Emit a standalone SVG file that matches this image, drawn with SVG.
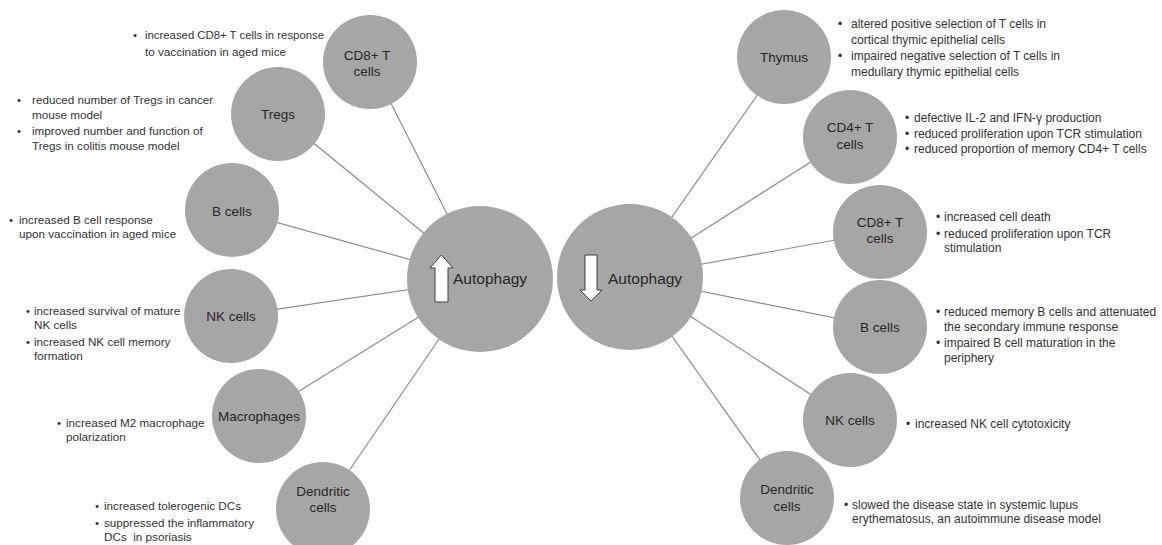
<svg xmlns="http://www.w3.org/2000/svg" width="1162" height="545" viewBox="0 0 1162 545">
<style>
.node{fill:#a6a6a6;}
.hub{fill:#a6a6a6;}
.lbl{font-family:"Liberation Sans",Arial,sans-serif;font-size:13.5px;fill:#262626;text-anchor:middle;}
.hubl{font-family:"Liberation Sans",Arial,sans-serif;font-size:15.5px;fill:#262626;}
.txt{font-family:"Liberation Sans",Arial,sans-serif;font-size:12px;fill:#333333;}
.lt{font-size:11.7px;}
.conn line{stroke:#8c8c8c;stroke-width:1.2;}
.arrow{fill:#ffffff;stroke:#404040;stroke-width:1;}
</style>
<rect width="1162" height="545" fill="#ffffff"/>
<g id="connectors" class="conn">
<line x1="480" y1="279" x2="370" y2="62"/>
<line x1="480" y1="279" x2="278" y2="114"/>
<line x1="480" y1="279" x2="232" y2="210"/>
<line x1="480" y1="279" x2="231" y2="316"/>
<line x1="480" y1="279" x2="259" y2="416"/>
<line x1="480" y1="279" x2="323" y2="509"/>
<line x1="630" y1="277" x2="784" y2="57"/>
<line x1="630" y1="277" x2="850" y2="137"/>
<line x1="630" y1="277" x2="880" y2="232"/>
<line x1="630" y1="277" x2="880" y2="327"/>
<line x1="630" y1="277" x2="850" y2="420"/>
<line x1="630" y1="277" x2="787" y2="498"/>
</g>
<g id="hub-up">
<circle class="hub" cx="480" cy="279" r="73"/>
<polygon class="arrow" points="441.5,255 453,268 448,268 448,302 435,302 435,268 430,268"/>
<text class="hubl" x="453" y="284">Autophagy</text>
</g>
<g id="hub-down">
<circle class="hub" cx="630" cy="277" r="73"/>
<polygon class="arrow" points="585,255 597,255 597,290 602,290 591,301 580,290 585,290"/>
<text class="hubl" x="608" y="284">Autophagy</text>
</g>
<g id="l-cd8">
<circle class="node" cx="370" cy="62" r="47"/>
<text class="lbl" x="367" y="60">CD8+ T</text>
<text class="lbl" x="367" y="76">cells</text>
<text class="txt lt" x="133" y="39">•</text>
<text class="txt lt" x="145" y="39" textLength="179" lengthAdjust="spacingAndGlyphs">increased CD8+ T cells in response</text>
<text class="txt lt" x="145" y="56">to vaccination in aged mice</text>
</g>
<g id="l-tregs">
<circle class="node" cx="278" cy="114" r="47"/>
<text class="lbl" x="278" y="119">Tregs</text>
<text class="txt lt" x="17" y="104">•</text>
<text class="txt lt" x="32" y="104">reduced number of Tregs in cancer</text>
<text class="txt lt" x="32" y="119">mouse model</text>
<text class="txt lt" x="17" y="135">•</text>
<text class="txt lt" x="32" y="135">improved number and function of</text>
<text class="txt lt" x="32" y="150">Tregs in colitis mouse model</text>
</g>
<g id="l-bcells">
<circle class="node" cx="232" cy="210" r="47"/>
<text class="lbl" x="232" y="216">B cells</text>
<text class="txt lt" x="9" y="224">•</text>
<text class="txt lt" x="19" y="224">increased B cell response</text>
<text class="txt lt" x="19" y="238">upon vaccination in aged mice</text>
</g>
<g id="l-nk">
<circle class="node" cx="231" cy="316" r="47"/>
<text class="lbl" x="231" y="321">NK cells</text>
<text class="txt lt" x="26" y="315">•</text>
<text class="txt lt" x="34" y="315">increased survival of mature</text>
<text class="txt lt" x="34" y="329">NK cells</text>
<text class="txt lt" x="26" y="346">•</text>
<text class="txt lt" x="34" y="346">increased NK cell memory</text>
<text class="txt lt" x="34" y="360">formation</text>
</g>
<g id="l-macro">
<circle class="node" cx="259" cy="416" r="47"/>
<text class="lbl" x="259" y="421">Macrophages</text>
<text class="txt lt" x="57" y="427">•</text>
<text class="txt lt" x="66" y="427">increased M2 macrophage</text>
<text class="txt lt" x="66" y="441">polarization</text>
</g>
<g id="l-dc">
<circle class="node" cx="323" cy="509" r="47"/>
<text class="lbl" x="323" y="496">Dendritic</text>
<text class="lbl" x="323" y="512">cells</text>
<text class="txt lt" x="95" y="510">•</text>
<text class="txt lt" x="104" y="510">increased tolerogenic DCs</text>
<text class="txt lt" x="95" y="527">•</text>
<text class="txt lt" x="104" y="527">suppressed the inflammatory</text>
<text class="txt lt" x="104" y="541" xml:space="preserve">DCs  in psoriasis</text>
</g>
<g id="r-thymus">
<circle class="node" cx="784" cy="57" r="47"/>
<text class="lbl" x="784" y="62">Thymus</text>
<text class="txt" x="838" y="28">•</text>
<text class="txt" x="851" y="28">altered positive selection of T cells in</text>
<text class="txt" x="851" y="44">cortical thymic epithelial cells</text>
<text class="txt" x="838" y="60">•</text>
<text class="txt" x="851" y="60">impaired negative selection of T cells in</text>
<text class="txt" x="851" y="76">medullary thymic epithelial cells</text>
</g>
<g id="r-cd4">
<circle class="node" cx="850" cy="137" r="47"/>
<text class="lbl" x="850" y="132">CD4+ T</text>
<text class="lbl" x="850" y="149">cells</text>
<text class="txt" x="905" y="122">•</text>
<text class="txt" x="914" y="122">defective IL-2 and IFN-γ production</text>
<text class="txt" x="905" y="138">•</text>
<text class="txt" x="914" y="138">reduced proliferation upon TCR stimulation</text>
<text class="txt" x="905" y="153">•</text>
<text class="txt" x="914" y="153">reduced proportion of memory CD4+ T cells</text>
</g>
<g id="r-cd8">
<circle class="node" cx="880" cy="232" r="47"/>
<text class="lbl" x="880" y="227">CD8+ T</text>
<text class="lbl" x="880" y="243">cells</text>
<text class="txt" x="936" y="221">•</text>
<text class="txt" x="944" y="221">increased cell death</text>
<text class="txt" x="936" y="238">•</text>
<text class="txt" x="944" y="238">reduced proliferation upon TCR</text>
<text class="txt" x="944" y="252">stimulation</text>
</g>
<g id="r-bcells">
<circle class="node" cx="880" cy="327" r="47"/>
<text class="lbl" x="880" y="332">B cells</text>
<text class="txt" x="936" y="316">•</text>
<text class="txt" x="944" y="316">reduced memory B cells and attenuated</text>
<text class="txt" x="944" y="331">the secondary immune response</text>
<text class="txt" x="936" y="347">•</text>
<text class="txt" x="944" y="347">impaired B cell maturation in the</text>
<text class="txt" x="944" y="362">periphery</text>
</g>
<g id="r-nk">
<circle class="node" cx="850" cy="420" r="47"/>
<text class="lbl" x="850" y="425">NK cells</text>
<text class="txt" x="906" y="428">•</text>
<text class="txt" x="915" y="428">increased NK cell cytotoxicity</text>
</g>
<g id="r-dc">
<circle class="node" cx="787" cy="498" r="47"/>
<text class="lbl" x="787" y="494">Dendritic</text>
<text class="lbl" x="787" y="511">cells</text>
<text class="txt" x="844" y="509">•</text>
<text class="txt" x="852" y="509">slowed the disease state in systemic lupus</text>
<text class="txt" x="852" y="523">erythematosus, an autoimmune disease model</text>
</g>
</svg>
